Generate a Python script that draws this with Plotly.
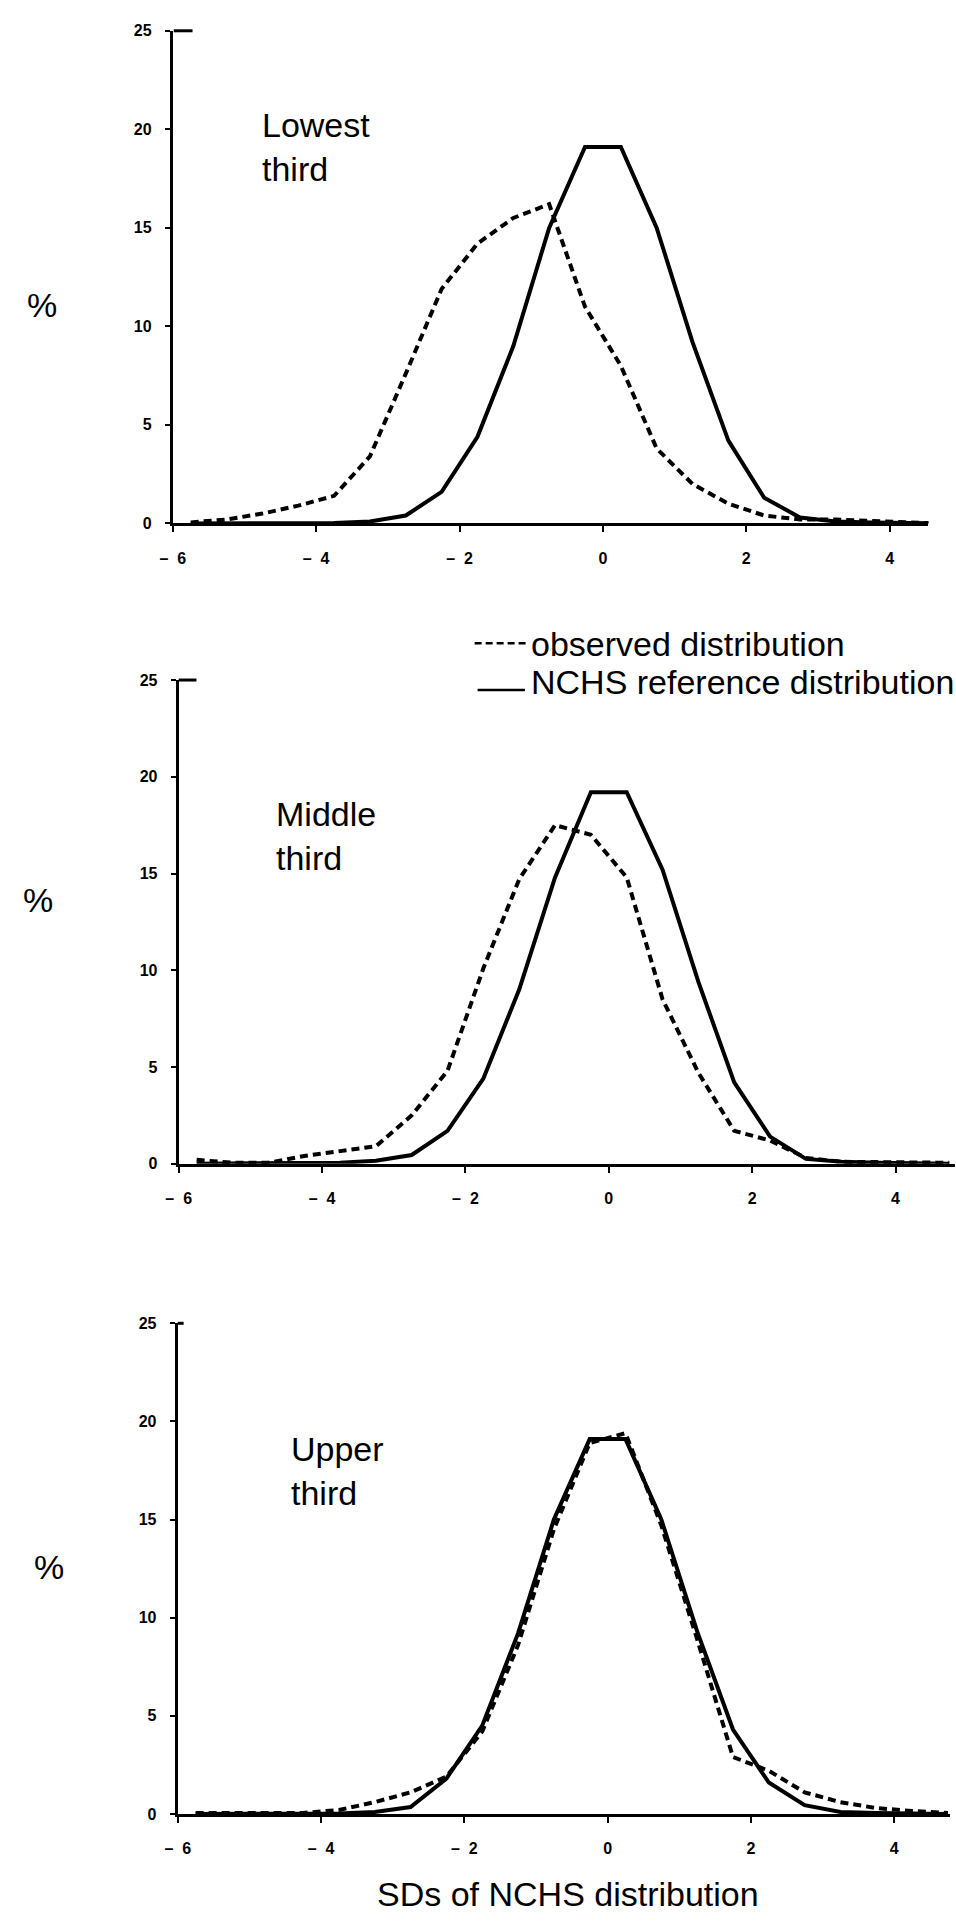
import plotly.graph_objects as go

W, H = 956, 1928

# ---------------- data ----------------
SD_BINS = [-5.75, -5.25, -4.75, -4.25, -3.75, -3.25, -2.75, -2.25, -1.75, -1.25,
           -0.75, -0.25, 0.25, 0.75, 1.25, 1.75, 2.25, 2.75, 3.25, 3.75, 4.25, 4.75]

LOWEST_OBSERVED = [0.05, 0.2, 0.5, 0.9, 1.4, 3.4, 7.6, 11.9, 14.2, 15.5, 16.2,
                   11.0, 8.0, 3.8, 2.0, 1.0, 0.4, 0.2, 0.2, 0.1, 0.05, 0.0]
LOWEST_NCHS = [0.0, 0.0, 0.0, 0.0, 0.02, 0.1, 0.4, 1.6, 4.4, 9.0, 15.0,
               19.1, 19.1, 15.0, 9.2, 4.2, 1.3, 0.3, 0.1, 0.05, 0.0, 0.0]

MIDDLE_OBSERVED = [0.2, 0.05, 0.05, 0.4, 0.65, 0.9, 2.5, 4.8, 10.1, 14.7, 17.5,
                   17.0, 14.8, 8.5, 4.7, 1.7, 1.2, 0.3, 0.1, 0.1, 0.05, 0.05]
MIDDLE_NCHS = [0.0, 0.0, 0.0, 0.0, 0.05, 0.15, 0.45, 1.7, 4.4, 9.0, 14.8,
               19.2, 19.2, 15.2, 9.4, 4.2, 1.4, 0.25, 0.1, 0.05, 0.02, 0.0]

UPPER_OBSERVED = [0.05, 0.05, 0.05, 0.05, 0.2, 0.6, 1.1, 1.9, 4.2, 8.6, 14.5,
                  18.9, 19.4, 14.7, 8.9, 2.9, 2.2, 1.1, 0.6, 0.3, 0.15, 0.05]
UPPER_NCHS = [0.0, 0.0, 0.0, 0.0, 0.02, 0.1, 0.35, 1.8, 4.5, 9.2, 15.0,
              19.1, 19.1, 15.0, 9.3, 4.3, 1.6, 0.45, 0.1, 0.05, 0.02, 0.0]

PANEL_LABELS = ["Lowest<br>third", "Middle<br>third", "Upper<br>third"]
X_TICK_VALUES = [-6, -4, -2, 0, 2, 4]
X_TICK_LABELS = ["\u2013\u00a0\u00a06", "\u2013\u00a0\u00a04", "\u2013\u00a0\u00a02", "0", "2", "4"]
Y_TICK_VALUES = [0, 5, 10, 15, 20, 25]
Y_TICK_LABELS = ["0", "5", "10", "15", "20", "25"]
LEGEND_LABELS = ["observed distribution", "NCHS reference distribution"]
X_TITLE = "SDs of NCHS distribution"
Y_LABEL = "%"

# ---------------- layout geometry (pixels) ----------------
PANELS = [
    dict(left=162, right=928, bottom=520, top=23, xmax=4.54, tee=(163, 182),
         label=(250, 140), pct=(29, 300)),
    dict(left=168, right=955, bottom=1166, top=678, xmax=4.83, tee=(168, 186),
         label=(265, 835), pct=(25, 900)),
    dict(left=167, right=950, bottom=1822, top=1327, xmax=4.78, tee=(167, 173),
         label=(280, 1476), pct=(36, 1573)),
]
SERIES = [(LOWEST_OBSERVED, LOWEST_NCHS), (MIDDLE_OBSERVED, MIDDLE_NCHS),
          (UPPER_OBSERVED, UPPER_NCHS)]

FONT = "Liberation Sans, Arial, Helvetica, sans-serif"
TEXT_SIZE = 34


def px_x(v):
    return v / W


def px_y(v):
    return 1 - v / H


fig = go.Figure()
layout = dict(
    width=W, height=H, autosize=False,
    margin=dict(l=0, r=0, t=0, b=0, pad=0),
    paper_bgcolor="white", plot_bgcolor="white",
    showlegend=False,
    font=dict(family=FONT, color="black"),
)
shapes = []
annotations = []

for i, (p, (obs, ref)) in enumerate(zip(PANELS, SERIES)):
    n = "" if i == 0 else str(i + 1)
    xa, ya = "x" + n, "y" + n
    fig.add_trace(go.Scatter(
        x=SD_BINS, y=ref, mode="lines", xaxis=xa, yaxis=ya,
        line=dict(color="black", width=4), name=LEGEND_LABELS[1],
        cliponaxis=True))
    fig.add_trace(go.Scatter(
        x=SD_BINS, y=obs, mode="lines", xaxis=xa, yaxis=ya,
        line=dict(color="black", width=4, dash="8px,5px"), name=LEGEND_LABELS[0],
        cliponaxis=True))

    layout["xaxis" + n] = dict(
        domain=[px_x(p["left"]), px_x(p["right"])], range=[-6, p["xmax"]],
        anchor=ya, showgrid=False, zeroline=False,
        showline=True, linecolor="black", linewidth=3,
        ticks="outside", ticklen=6, tickwidth=2, tickcolor="black",
        tickvals=X_TICK_VALUES, ticktext=X_TICK_LABELS,
        tickfont=dict(family=FONT, size=16, color="black", weight="bold"),
        ticklabelstandoff=12, fixedrange=True,
    )
    layout["yaxis" + n] = dict(
        domain=[px_y(p["bottom"]), px_y(p["top"])], range=[0, 25],
        anchor=xa, showgrid=False, zeroline=False,
        showline=True, linecolor="black", linewidth=3,
        ticks="outside", ticklen=5, tickwidth=2, tickcolor="black",
        tickvals=Y_TICK_VALUES, ticktext=Y_TICK_LABELS,
        tickfont=dict(family=FONT, size=16, color="black", weight="bold"),
        ticklabelstandoff=10, fixedrange=True,
    )
    # small tee at the top of the y axis
    shapes.append(dict(type="line", xref="paper", yref="paper",
                       x0=px_x(p["tee"][0]), x1=px_x(p["tee"][1]),
                       y0=px_y(p["top"]), y1=px_y(p["top"]),
                       line=dict(color="black", width=3)))
    annotations.append(dict(
        text=PANEL_LABELS[i], xref="paper", yref="paper",
        x=px_x(p["label"][0]), y=px_y(p["label"][1]),
        xanchor="left", yanchor="middle", align="left", showarrow=False,
        font=dict(family=FONT, size=TEXT_SIZE, color="black")))
    annotations.append(dict(
        text=Y_LABEL, xref="paper", yref="paper",
        x=px_x(p["pct"][0]), y=px_y(p["pct"][1]),
        xanchor="center", yanchor="middle", showarrow=False,
        font=dict(family=FONT, size=TEXT_SIZE, color="black")))

# legend drawn by hand
shapes.append(dict(type="line", xref="paper", yref="paper",
                   x0=px_x(468), x1=px_x(521), y0=px_y(641), y1=px_y(641),
                   line=dict(color="black", width=2.5, dash="7px,4px")))
shapes.append(dict(type="line", xref="paper", yref="paper",
                   x0=px_x(471), x1=px_x(519), y0=px_y(688), y1=px_y(688),
                   line=dict(color="black", width=2.5)))
annotations.append(dict(
    text=LEGEND_LABELS[0], xref="paper", yref="paper",
    x=px_x(523), y=px_y(642), xanchor="left", yanchor="middle", showarrow=False,
    font=dict(family=FONT, size=TEXT_SIZE, color="black")))
annotations.append(dict(
    text=LEGEND_LABELS[1], xref="paper", yref="paper",
    x=px_x(523), y=px_y(680), xanchor="left", yanchor="middle", showarrow=False,
    font=dict(family=FONT, size=TEXT_SIZE, color="black")))

annotations.append(dict(
    text=X_TITLE, xref="paper", yref="paper",
    x=px_x(563), y=px_y(1903), xanchor="center", yanchor="middle", showarrow=False,
    font=dict(family=FONT, size=TEXT_SIZE, color="black")))

layout["shapes"] = shapes
layout["annotations"] = annotations
fig.update_layout(**layout)
fig.write_html("out.html", config={"displayModeBar": False})
